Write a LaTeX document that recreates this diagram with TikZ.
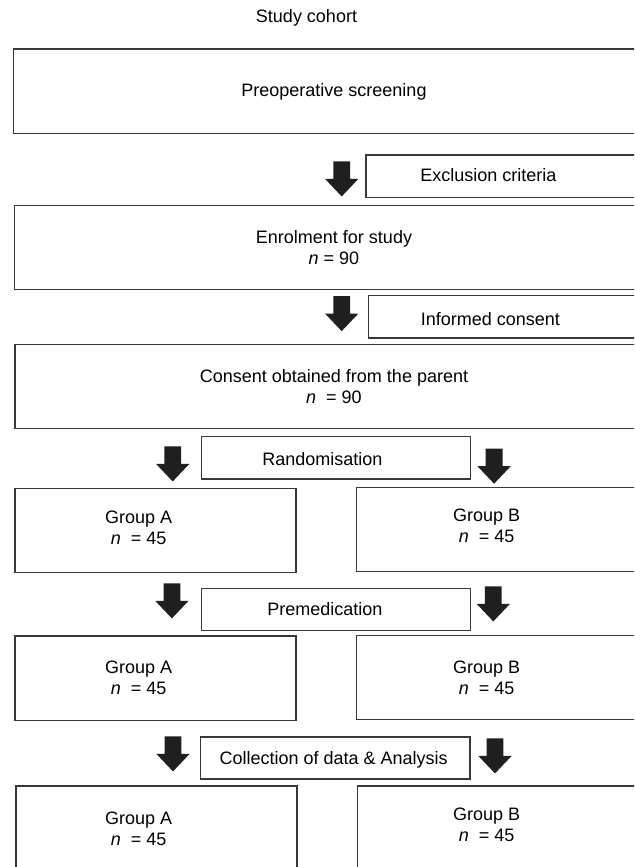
\documentclass[tikz,border=0pt]{standalone}
\usepackage{fontspec}
\setmainfont{Liberation Sans}
\usetikzlibrary{shapes.arrows}

\tikzset{
  boxline/.style={draw=black!78, line width=0.65pt},
  boxtext/.style={font=\fontsize{9}{10.5}\selectfont, inner sep=0pt, align=center},
  downarrow/.style={single arrow, fill=black!88, draw=none, shape border rotate=270,
    minimum height=17.5pt, minimum width=16.2pt, single arrow head extend=4.1pt,
    single arrow tip angle=87, inner sep=4pt, anchor=tip}
}

\begin{document}
\begin{tikzpicture}[x=0.5pt, y=-0.5pt]
  \useasboundingbox (0,0) rectangle (634,867);
  \clip (0,0) rectangle (634,867);
  % boxes (right ones run off the page)
  \foreach \xa/\ya/\xb/\yb in {13.3/49/640/133.3, 366/155/640/197.3,
                              14.6/205.7/640/289.3, 368.8/295.7/640/338,
                              15/344.5/640/428.5, 201.4/436.7/470.3/479,
                              15/488.3/296/572.3, 356.2/487.7/640/571.7,
                              201.4/588.3/470.3/630.7, 15/636/296/720.3,
                              356.2/635.7/640/719.3, 200.6/737/470/779,
                              16/786/297/880, 357.5/786/640/880} {
    \draw[boxline] (\xa,\ya) rectangle (\xb,\yb);
  }
  % main column
  \node[boxtext, anchor=base] (cohort) at (306.5,22) {Study cohort};
  \node[boxtext, anchor=base] (screen) at (334,96.7) {Preoperative screening};
  \node[boxtext, anchor=base] (excl) at (488.3,181.7) {Exclusion criteria};
  \node[boxtext] (enrol) at (334,248) {Enrolment for study\\{\itshape n} = 90};
  \node[boxtext, anchor=base] (infc) at (490.3,325.7) {Informed consent};
  \node[boxtext] (parent) at (334,386.8)
        {Consent obtained from the parent\\{\itshape n}~~= 90};
  \node[boxtext, anchor=base] (rand) at (322.4,465.3) {Randomisation};
  \node[boxtext, anchor=base] (premed) at (324.9,615.3) {Premedication};
  \node[boxtext, anchor=base] (coll) at (333.6,764) {Collection of data \& Analysis};
  % groups
  \foreach \r/\ya/\yb in {1/528/526, 2/677.3/677.3, 3/829/825.2} {
    \node[boxtext] (gA\r) at (138.7,\ya) {Group A\\{\itshape n}~~= 45};
    \node[boxtext] (gB\r) at (486.7,\yb) {Group B\\{\itshape n}~~= 45};
  }
  % block arrows
  \foreach \i/\x/\y in {1/341.7/197, 2/341.7/331.7, 3/172.7/482, 4/494.1/484.3,
                        5/171.9/619, 6/493.3/622, 7/173/772, 8/495/774} {
    \node[downarrow] (arr\i) at (\x,\y) {};
  }
\end{tikzpicture}
\end{document}
